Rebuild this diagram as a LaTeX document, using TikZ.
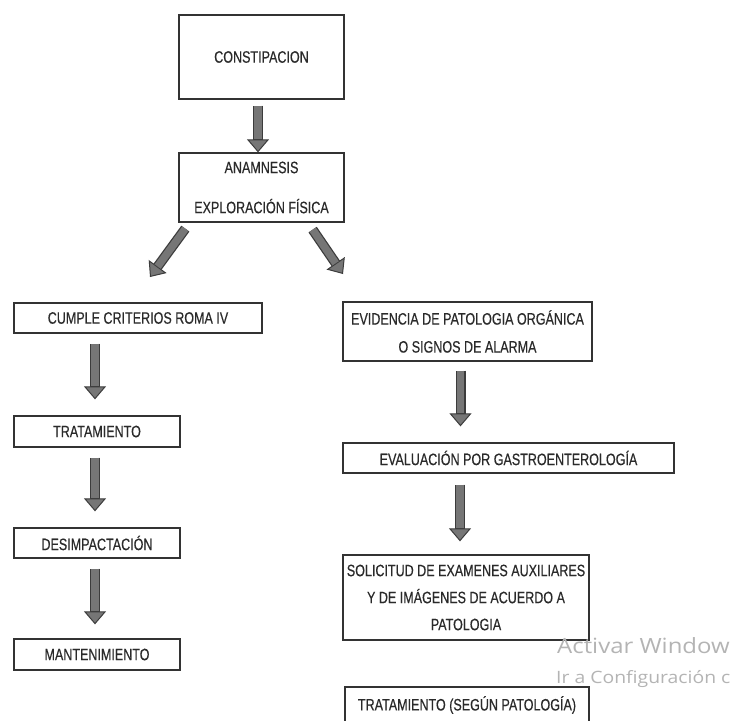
\documentclass[tikz,border=0pt]{standalone}
\usepackage{fontspec}
\setmainfont{Liberation Sans}[FakeStretch=0.76, FakeBold=0.4]
\newfontfamily\winfont{Open Sans}[FakeStretch=1.14]
\usetikzlibrary{arrows.meta}
\definecolor{boxline}{HTML}{333333}
\definecolor{boxtext}{HTML}{2A2A2A}
\definecolor{arrowedge}{HTML}{3C3C3C}
\definecolor{arrowfill}{HTML}{767676}
\definecolor{wmark}{HTML}{B4B4B4}
\tikzset{
  box/.style={draw=boxline, line width=1.3pt, align=center, inner sep=0pt,
    text=boxtext, font=\fontsize{16.5}{28}\selectfont},
  flow/.style={draw=arrowedge, line width=10pt,
    -{Triangle[width=22pt,length=13pt,line width=1pt,fill=arrowfill]},
    postaction={draw=arrowfill, line width=7.5pt, -, shorten >=13pt}}
}
\begin{document}
\begin{tikzpicture}[x=1pt, y=-1pt]
  \useasboundingbox (0,0) rectangle (738,720);
  \clip (0,0) rectangle (738,720);
  \fill[white] (0,0) rectangle (738,720);

  \node[box, minimum width=165pt, minimum height=84pt] (con) at (261.5,57) {CONSTIPACION};
  \node[box, minimum width=165pt, minimum height=69pt,
    font=\fontsize{16.5}{40}\selectfont] (ana) at (261.5,187.5) {ANAMNESIS\\EXPLORACIÓN FÍSICA};

  \node[box, minimum width=248pt, minimum height=30pt] (cum) at (138,318) {CUMPLE CRITERIOS ROMA IV};
  \node[box, minimum width=166pt, minimum height=31pt] (tra) at (97,431.5) {TRATAMIENTO};
  \node[box, minimum width=166pt, minimum height=30pt] (des) at (97,543) {DESIMPACTACIÓN};
  \node[box, minimum width=166pt, minimum height=31pt] (man) at (97,654.5) {MANTENIMIENTO};

  \node[box, minimum width=249pt, minimum height=59pt] (evi) at (467.5,331.5)
    {EVIDENCIA DE PATOLOGIA ORGÁNICA\\O SIGNOS DE ALARMA};
  \node[box, minimum width=331pt, minimum height=30pt] (eva) at (508.5,458)
    {EVALUACIÓN POR GASTROENTEROLOGÍA};
  \node[box, minimum width=246pt, minimum height=85pt,
    font=\fontsize{16.5}{27}\selectfont] (sol) at (466,597.5)
    {SOLICITUD DE EXAMENES AUXILIARES\\Y DE IMÁGENES DE ACUERDO A\\PATOLOGIA};
  \node[box, minimum width=244pt, minimum height=36pt] (trs) at (467,705)
    {TRATAMIENTO (SEGÚN PATOLOGÍA)};

  \node[anchor=base west, inner sep=0pt, text=wmark, font=\winfont\fontsize{21}{21}\selectfont]
    (wm1) at (557,653) {Activar Window};
  \node[anchor=base west, inner sep=0pt, text=wmark, font=\winfont\fontsize{17}{17}\selectfont]
    (wm2) at (556,683) {Ir a Configuración c};

  \coordinate (tipL) at (150,277);
  \coordinate (tipR) at (343,274);

  \draw[flow] ([xshift=-3.5pt,yshift=-6pt]con.south) -- ([xshift=-3.5pt]ana.north);
  \draw[flow] ([xshift=7pt,yshift=-6pt]ana.south west) -- (tipL);
  \draw[flow] ([xshift=-32pt,yshift=-7pt]ana.south east) -- (tipR);
  \draw[flow] ([xshift=-2pt,yshift=-10pt]cum.south -| tra.north) -- ([xshift=-2pt,yshift=16pt]tra.north);
  \draw[flow] ([xshift=-2pt,yshift=-10pt]tra.south) -- ([xshift=-2pt,yshift=16pt]des.north);
  \draw[flow] ([xshift=-2pt,yshift=-10pt]des.south) -- ([xshift=-2pt,yshift=14pt]man.north);
  \draw[flow] ([xshift=-7pt,yshift=-9pt]evi.south) -- ([xshift=-7pt,yshift=16pt]evi.south |- eva.north);
  \draw[flow] ([xshift=-6pt,yshift=-11pt]sol.north |- eva.south) -- ([xshift=-6pt,yshift=13pt]sol.north);
\end{tikzpicture}
\end{document}
